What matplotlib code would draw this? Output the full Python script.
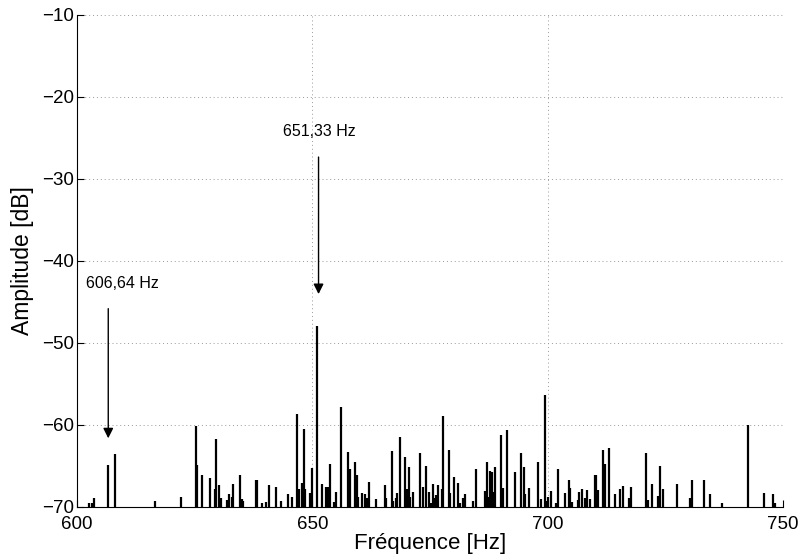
import numpy as np
import matplotlib
matplotlib.use('Agg')
import matplotlib.pyplot as plt

plt.rcParams['font.family'] = ['Liberation Sans', 'DejaVu Sans']

# frequences des raies [Hz] et amplitudes [dB]
freq = [602.6, 603.2, 603.7, 606.6, 608.0, 616.6, 622.1,
        625.2, 625.6, 626.6, 628.3, 629.3, 629.6, 630.2, 630.5, 631.8, 632.3,
        632.9, 633.2, 634.6, 635.0, 635.3, 638.0, 638.2, 639.4, 640.2, 640.9,
        642.3, 643.3, 644.8, 645.6, 646.8, 647.2, 647.9, 648.2, 648.5, 649.5,
        649.9, 651.1, 652.0, 653.0, 653.3, 653.8, 654.7, 655.0, 656.2, 657.5,
        658.0, 659.1, 659.5, 659.8, 660.5, 661.3, 661.6, 662.0, 663.6, 665.4,
        665.6, 666.9, 667.1, 667.8, 668.0, 668.6, 669.8, 670.2, 670.5, 670.8,
        671.5, 672.9, 673.5, 674.1, 674.8, 675.2, 675.6, 676.0, 676.2, 676.7,
        677.5, 677.8, 679.1, 679.3, 680.1, 680.9, 681.4, 682.1, 682.4, 684.1,
        684.8, 686.8, 687.2, 687.5, 687.8, 688.2, 688.4, 688.8, 690.1, 690.6,
        691.4, 693.1, 694.3, 695.0, 695.2, 696.0, 698.0, 698.5, 699.4, 699.7,
        700.1, 700.7, 701.7, 702.3, 703.7, 704.5, 704.8, 705.2, 706.4, 706.6,
        707.4, 708.0, 708.3, 709.0, 710.0, 710.4, 710.7, 711.7, 712.2, 713.0,
        714.3, 715.3, 716.0, 717.4, 717.8, 720.9, 721.4, 722.2, 723.5, 723.8,
        724.5, 727.6, 730.3, 730.6, 733.3, 734.6, 737.0, 742.5, 746.1, 747.9,
        748.4]
ampl = [-69.5, -69.6, -68.9, -64.9, -63.6, -69.3, -68.8,
        -60.2, -64.9, -66.1, -66.5, -67.9, -61.8, -67.4, -68.9, -69.2, -68.4,
        -68.8, -67.2, -66.1, -69.1, -69.3, -66.7, -66.7, -69.6, -69.4, -67.3,
        -67.6, -69.3, -68.4, -68.8, -58.7, -67.9, -67.1, -60.5, -67.8, -68.3,
        -65.3, -48.0, -67.2, -67.6, -67.6, -64.8, -69.4, -68.2, -57.8, -63.3,
        -65.4, -64.5, -66.1, -68.8, -68.3, -68.5, -68.9, -67.0, -69.1, -67.4,
        -68.9, -63.2, -69.3, -68.9, -68.3, -61.5, -63.9, -67.8, -65.2, -68.8,
        -68.2, -63.5, -67.6, -65.0, -68.2, -69.5, -67.2, -69.0, -68.6, -67.3,
        -67.9, -58.9, -63.1, -68.3, -66.4, -67.1, -69.5, -68.9, -68.4, -69.3,
        -65.4, -68.1, -64.6, -68.8, -65.6, -65.8, -68.2, -65.2, -61.3, -67.7,
        -60.7, -65.8, -63.4, -65.2, -68.4, -67.7, -64.6, -69.1, -56.4, -69.3,
        -68.8, -68.1, -69.6, -65.4, -68.3, -66.7, -67.7, -69.4, -69.2, -68.2,
        -67.8, -68.9, -68.0, -69.1, -66.1, -66.2, -68.0, -63.1, -64.8, -62.8,
        -68.5, -67.9, -67.5, -68.9, -67.6, -63.5, -69.2, -67.2, -68.7, -65.1,
        -67.8, -67.2, -68.9, -66.7, -66.7, -68.4, -69.5, -60.0, -68.3, -68.4,
        -69.6]

xticks = [600, 650, 700, 750]
yticks = [-70, -60, -50, -40, -30, -20, -10]

fig = plt.figure(figsize=(7.98, 5.54), dpi=100)
ax = fig.add_axes([0.0965, 0.0855, 0.8845, 0.8875])

ax.vlines(freq, -70, ampl, colors='k', lw=1.6)

ax.set_xlim(600, 750)
ax.set_ylim(-70, -10)
ax.set_xticks(xticks)
ax.set_yticks(yticks)
ax.grid(True, linestyle=(0, (1, 3)), color='#999999', lw=0.7)
ax.spines['top'].set_visible(False)
ax.spines['right'].set_visible(False)
ax.tick_params(direction='in', length=5, labelsize=13.5)
ax.tick_params(axis='x', pad=7)
ax.tick_params(axis='y', pad=2)
ax.set_xlabel('Fréquence [Hz]', fontsize=16, labelpad=0)
ax.set_ylabel('Amplitude [dB]', fontsize=16.5, labelpad=6)

# annotations des deux raies
ax.annotate('', xy=(651.33, -44.4), xytext=(651.33, -27.0),
            arrowprops=dict(arrowstyle='-|>', color='k', lw=1, mutation_scale=15))
ax.text(651.5, -24.2, '651,33 Hz', ha='center', va='center', fontsize=11.5)
ax.annotate('', xy=(606.64, -62.0), xytext=(606.64, -45.5),
            arrowprops=dict(arrowstyle='-|>', color='k', lw=1, mutation_scale=15))
ax.text(609.6, -42.8, '606,64 Hz', ha='center', va='center', fontsize=11.5)

fig.savefig('out.png', dpi=100)
